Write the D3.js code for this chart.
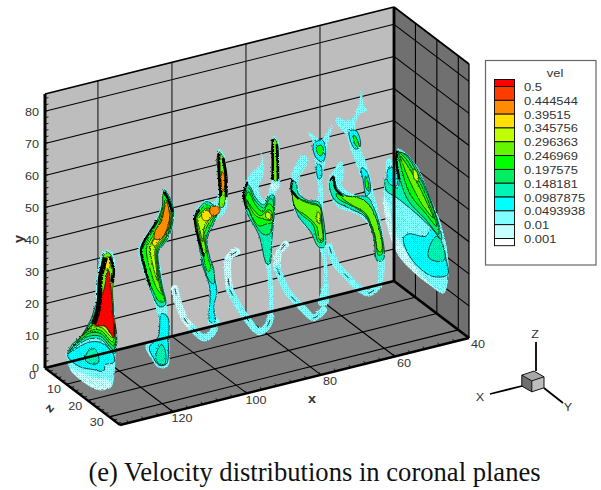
<!DOCTYPE html>
<html>
<head>
<meta charset="UTF-8">
<title>vel coronal planes</title>
<script src="https://d3js.org/d3.v7.min.js"></script>
<style>
  html, body { margin: 0; padding: 0; background: #fff; }
  svg { display: block; }
  text { font-family: "Liberation Sans", Arial, sans-serif; fill: #333; }
</style>
</head>
<body>
<svg width="601" height="490"></svg>
<script>
// axis ticks
const xTicks = [40, 60, 80, 100, 120];
const yTicks = [0, 10, 20, 30, 40, 50, 60, 70, 80];
const zTicks = [0, 10, 20, 30];
const xMinor = d3.range(40, 134, 4);
const yMinor = d3.range(0, 85, 2);
const zMinor = d3.range(0, 35, 2);

// contour legend
const velLevels = [0.001, 0.01, 0.0493938, 0.0987875, 0.148181, 0.197575, 0.246969, 0.296363, 0.345756, 0.39515, 0.444544, 0.5];
const velColors = ["#ffffff", "#c8ffff", "#7fffff", "#00ffff", "#00f5b5", "#00ee60", "#00ff00", "#66f500", "#bfff00", "#ffe000", "#ff8c00", "#ff3c00", "#ff0000"];
const legendLabels = ["0.5", "0.444544", "0.39515", "0.345756", "0.296363", "0.246969", "0.197575", "0.148181", "0.0987875", "0.0493938", "0.01", "0.001"];

// x position of each coronal plane
const planeX = [132, 115, 100, 86, 72, 58, 45];

// contour bands per plane: [vel, [[z, y], ...]]
const plane1Bands = [
  [0.01, [[23.8,48.3],[27.1,49.4],[28.5,46.4],[27.6,40.9],[28,33.6],[28.5,26.7],[28.5,18.3],[27.6,9.7],[26.6,7.4],[21.5,3.6],[13.5,2.1],[7.5,2.8],[5.6,6.9],[7.5,10],[12.1,14.5],[15.4,20.2],[18.2,25.6],[19.1,33.6],[20.1,40.2],[21.9,46.2]]],
  [0.001, [[7.5,2.8],[13.5,2.1],[21.5,3.6],[26.6,7.4],[25.2,8.6],[19.1,6.2],[12.1,4.5]]],
  [0.05, [[6.1,6.8],[9.8,10.5],[15.9,15.7],[21.5,18.5],[27.6,17.8],[27.6,15.3],[23.8,12.8],[22.9,10.3],[18.2,8.4],[12.1,6.1],[8.4,5.8]]],
  [0.1, [[14.5,9.4],[15.9,13.2],[19.1,15.2],[20.5,11.8],[17.7,9.8]]],
  [0.1, [[6.1,7.1],[10.3,11.7],[15.9,16.7],[21.5,19.5],[28,18.4],[28,28],[20.5,30.5],[16.8,23.1],[12.1,15.4],[8.4,11.4]]],
  [0.15, [[7,8.5],[10.7,12.8],[15.9,17.6],[21.5,20.4],[27.6,19.4],[27.6,28.4],[21,30.1],[17.3,23],[12.6,16]]],
  [0.2, [[8.9,11],[12.1,14.5],[16.3,18.8],[21.5,21.3],[27.6,20.6],[27.6,29],[21.5,29.7],[18.2,23.1],[14,17.6]]],
  [0.25, [[12.1,15.4],[16.8,19.9],[21.5,22.3],[27.1,21.6],[27.1,29.1],[21.9,29.4],[18.7,23.4],[15.4,19.2]]],
  [0.3, [[15.4,19.2],[17.7,21.3],[21.9,23.4],[27.1,22.9],[27.1,29.1],[22.4,29],[19.1,23.6]]],
  [0.35, [[18.2,22.2],[22.4,24.6],[27.1,23.8],[27.1,29.1],[22.9,28.6],[19.6,23.8]]],
  [0.4, [[19.1,23.3],[22.9,25.5],[27.1,24.8],[27.6,30.3],[23.3,28.2]]],
  [0.25, [[22.9,46.3],[25.2,48.4],[27.1,47.5],[27.6,43.4],[27.1,36.9],[27.1,30.1],[20.5,29.9],[21.5,35.7],[21.9,42.1]]],
  [0.51, [[25.2,42.8],[26.6,36.7],[27.6,26.2],[27.6,23.1],[23.8,24.7],[19.1,22.7],[21,29.2],[23.3,36.6]]],
  [0.35, [[23.8,46.1],[25.7,47.1],[25.7,43.9],[24.3,42.4]]]
];
const plane2Bands = [
  [0.01, [[21.9,61.8],[24.3,60.7],[26.6,57.9],[26.2,53],[24.8,48.8],[21.9,44.3],[19.6,41],[20.5,35.2],[21.9,29.7],[22.9,26.1],[23.8,22.2],[24.3,15.3],[23.4,7],[19.1,4.6],[15.9,5.8],[13.1,8.4],[19.1,13.6],[19.1,19.9],[14.9,27.1],[12.6,30.3],[9.8,37],[12.1,41.3],[14.9,45.5],[18.2,50.5],[20.5,56.1],[21.5,59.7]]],
  [0.05, [[14.9,8.7],[19.1,14.3],[20.5,22.1],[23.4,22.6],[23.8,15],[22.9,7.7],[19.6,5.5],[16.8,6.5]]],
  [0.1, [[18.2,8.5],[20.5,12.5],[22.4,11.2],[21.9,6.9],[19.1,5.8]]],
  [0.1, [[21.9,61.4],[24.3,60.4],[26.2,57.6],[25.7,52.7],[24.3,48.6],[21.5,44.1],[19.1,40.7],[19.6,35.4],[21,30.8],[22.4,25.9],[19.6,23.8],[15.9,26.6],[13.5,30.1],[10.7,37.1],[12.6,41.2],[15.4,45.4],[18.7,50.5],[21,56]]],
  [0.2, [[21.5,60],[23.8,59.6],[25.7,57.1],[25.2,52.5],[23.8,48.7],[21,44.2],[18.7,40.8],[19.1,35.1],[20.5,30.5],[21.9,26.6],[19.6,25.4],[16.8,27.1],[14,30.7],[11.7,37.6],[13.5,41],[15.9,45],[19.1,50.4],[21,55.4]]],
  [0.25, [[22.4,58.6],[25.2,56.5],[24.8,52.3],[23.4,48.4],[20.5,44.2],[18.2,40.9],[18.7,34.9],[19.6,30.7],[21,28.3],[18.7,28.7],[15.9,32.2],[13.5,38.5],[14.9,41.7],[17.3,45.4],[19.6,50],[21.5,55]]],
  [0.3, [[22.9,56.6],[24.8,55.4],[24.3,52],[22.9,48.5],[20.1,44.3],[17.7,41],[18.2,34.7],[19.1,31.4],[17.3,33.6],[15.4,38.9],[15.9,41.9],[18.2,45.6],[20.1,49.9],[21.9,54.6]]],
  [0.35, [[23.4,55.9],[24.3,52],[22.4,48.3],[19.6,44.4],[17.3,41.4],[16.3,42.1],[18.7,45.8],[20.5,50.2],[21.9,54]]],
  [0.4, [[22.9,58.2],[24.3,53.6],[20.5,45.5],[17.3,43.8],[17.7,46.6],[20.5,50.8],[21.9,55.5]]]
];
const plane3Bands = [
  [0.01, [[21.5,69.6],[23.8,69.2],[25.2,64.3],[25.7,59.3],[25.2,53.4],[23.4,50],[19.1,45.4],[15.4,37.6],[16.8,33],[19.1,30.1],[21,24.8],[19.6,20.1],[20.1,14.1],[16.8,12.5],[16.8,23.7],[13.1,31.2],[10.7,38.4],[9.8,43.5],[11.7,46.3],[15.4,50.7],[18.7,51.7],[21,55.1],[20.5,63.5]]],
  [0.05, [[17.3,13.6],[17.3,23.9],[13.5,31.1],[16.3,32.5],[18.7,29.3],[20.5,24.6],[19.1,19.5],[19.6,14.8]]],
  [0.1, [[10.3,43.5],[12.1,46.3],[15.4,50.1],[18.7,50.8],[20.5,49.5],[19.6,46.3],[15.9,38.5],[17.3,33.6],[19.1,30.8],[19.1,26.4],[17.3,26.1],[13.5,31.4],[11.2,38]]],
  [0.2, [[10.7,43.4],[12.6,45.9],[15.4,49.1],[18.7,49.8],[20.1,48.7],[18.7,45.8],[15.4,38.9],[16.3,33.4],[17.7,30.4],[16.3,28.7],[14,32.9],[11.7,38.2]]],
  [0.25, [[11.2,43],[13.1,45.5],[15.9,48.4],[18.7,48.9],[19.1,47.6],[16.8,44.2],[14.5,39.3],[15.4,34.5],[14.5,33.4],[12.6,37.8]]],
  [0.3, [[11.7,42.6],[13.5,45.1],[15.9,47.8],[18.7,48.3],[16.8,45.2],[14.5,41.5],[14,36.9],[12.6,39.9]]],
  [0.35, [[13.5,45.4],[16.3,47.7],[18.2,47.1],[15.9,44.4],[14,43.8]]],
  [0.4, [[17.7,49.7],[21.9,51.5],[21.5,49.7],[18.7,47.3],[17.3,47.6]]],
  [0.25, [[21.5,68.7],[23.4,68.1],[24.8,64.1],[24.8,57.9],[23.4,52.5],[21.9,51.8],[21.9,56.5],[21.5,62.5],[20.5,65.1]]],
  [0.4, [[22.9,63.2],[23.8,63],[23.8,58],[22.9,56.9]]]
];
const plane4Bands = [
  [0.01, [[22.9,70.6],[25.2,69.6],[25.7,62.1],[25.7,55.8],[23.8,53.3],[23.4,45.3],[22.4,37.1],[21.5,29.4],[22.4,25.5],[22.9,19.5],[22.4,14.3],[21,12.4],[20.5,20.6],[19.1,29.2],[15.9,36],[9.8,40.1],[8.9,44.9],[9.8,49.5],[13.1,54.2],[16.8,58.3],[16.8,62.3],[18.2,59.9],[18.2,55.8],[15.9,50.9],[18.2,48],[21,52.6],[21.9,55.5],[21.9,64.9],[22.4,69.8]]],
  [0.001, [[21.9,55.5],[25.2,56.5],[23.8,53.7],[21.5,53.1]]],
  [0.1, [[9.3,45.2],[10.7,49],[12.1,48.8],[14.5,46.8],[18.2,46.5],[21,50.7],[22.9,51.9],[22.9,45.1],[21.9,36.8],[21,29.5],[19.6,28.8],[15.9,36],[10.3,40.3]]],
  [0.15, [[9.8,45.4],[11.2,48.3],[14,45.9],[18.2,45.6],[21,49.8],[22.4,50.2],[22.4,44.9],[21,38.9],[17.7,37.2],[12.1,40.3]]],
  [0.2, [[9.8,44.8],[11.2,47],[14,44.7],[17.7,44.1],[20.5,48],[22.4,48],[22.4,43.3],[19.6,41.3],[15.9,38.8],[12.1,40.7]]],
  [0.25, [[10.3,44.1],[13.1,42.7],[16.8,42.4],[20.1,45.9],[21.9,46.2],[21.9,43.7],[17.7,41.9],[14,41.3]]],
  [0.3, [[19.6,45],[21.5,45.3],[21,43.2],[19.1,43.2]]],
  [0.25, [[23.4,69.6],[24.8,67.8],[24.8,61.6],[24.8,57.5],[22.9,56.6],[22.4,62],[21.9,66.4]]]
];
const plane5Bands = [
  [0.01, [[26.2,71.3],[24.3,65.7],[22.9,59.1],[21.5,52.2],[21.9,47.4],[21.5,41],[22.9,33.3],[23.8,25.3],[24.3,18.4],[23.8,14.1],[19.6,12],[21.9,20.3],[21.5,27.3],[17.3,32.6],[12.6,33.4],[7.9,36.1],[7,44],[7.9,48.5],[12.6,55.2],[14.9,54.8],[10.3,45.6],[13.5,41.7],[19.1,44.8],[18.2,52.7],[17.3,60.7],[14.9,63.5],[17.3,63.8],[20.5,63.9],[23.8,68]]],
  [0.05, [[17.3,61],[21.5,64.3],[22.9,61.3],[21.5,57.5],[18.2,57.4]]],
  [0.2, [[18.7,60.7],[21,62.5],[21.9,60.8],[20.5,58.9],[19.1,59.1]]],
  [0.05, [[18.7,55.1],[20.5,56.1],[21,52.6],[19.6,51.2]]],
  [0.1, [[7,44],[8.9,44.9],[10.3,41.9],[14.9,42.1],[19.6,44.1],[21.5,41],[22.4,31.5],[19.6,30.1],[15.9,32.9],[9.8,35.1],[7.5,39.6]]],
  [0.2, [[7.9,41.4],[9.8,40.7],[14,41.3],[19.6,43.1],[21,40.1],[21.5,32.6],[19.6,31.6],[16.8,35.8],[11.2,36.1],[7.9,37.6]]],
  [0.25, [[7.5,41.1],[11.2,40.5],[15.9,41.6],[20.1,42.8],[21,37.9],[21.5,33.2],[20.1,32.5],[18.7,36.1],[14,36.9],[8.9,36.8]]],
  [0.3, [[19.1,40.7],[20.1,40.9],[20.1,37.5],[19.1,37.6]]]
];
const plane6Bands = [
  [0.01, [[15.4,72.5],[16.8,68.5],[18.2,68],[14.5,64.6],[12.6,60.2],[14.5,55.5],[18.2,50.5],[21,44.2],[24.8,35.7],[26.2,27.1],[25.7,19.1],[22.9,14.6],[23.4,21],[21.9,27.5],[18.2,32.8],[11.7,32.6],[4.7,30.7],[0.9,32.9],[0,36.8],[2.3,41],[6.1,46],[7.5,43],[6.5,38.5],[11.7,38.5],[17.7,41.6],[14.5,46.5],[10.7,51.5],[8.4,55],[3.7,56.7],[4.2,58.8],[8.4,59.7],[11.7,62.5],[13.1,65.1],[14.5,68.9]]],
  [0.05, [[9.8,57.2],[13.1,58.9],[14.9,55.1],[12.6,53],[10.3,54.4]]],
  [0.2, [[11.7,56.9],[13.1,56.7],[14.5,54.3],[12.6,54.3]]],
  [0.05, [[15.4,48.5],[17.7,48.8],[19.6,43.5],[17.7,41],[16.3,44.9]]],
  [0.2, [[17.3,47],[18.7,45.5],[18.7,43],[17.3,43.8]]],
  [0.1, [[0.5,36.4],[2.3,39.2],[4.2,36.4],[8.9,36.5],[18.2,40.9],[21.5,38.8],[25.2,31.9],[25.7,25.3],[22.9,23.3],[21,30.1],[17.3,34.2],[9.3,33],[2.8,32.2]]],
  [0.2, [[3.7,34.6],[8.4,35.7],[16.3,39],[20.5,37.7],[24.8,31.1],[25.2,26.9],[23.4,25.4],[21.5,30.4],[17.3,34.8],[9.8,34.2],[4.7,33.5]]],
  [0.25, [[6.1,34.8],[15.4,38.9],[20.1,38.4],[24.8,31.1],[24.8,27.3],[23.4,26.6],[21.5,31.3],[17.3,35.4],[10.7,34.7]]]
];
const plane7Bands = [
  [0.001, [[9.8,47.9],[13.5,48.5],[19.6,46.6],[25.2,40.3],[29.9,34.9],[33.2,26.9],[33.2,18.5],[31.3,13.8],[24.3,13.1],[18.2,13.2],[10.3,14.8],[5.6,20.2],[3.3,27.5],[5.1,39.6],[5.1,42.4],[8.9,43.7]]],
  [0.01, [[9.8,47.9],[13.5,48.5],[19.6,46.6],[25.2,40.3],[29.9,34.9],[33.2,26.9],[33.2,18.5],[31.3,13.8],[26.2,13.4],[19.6,14.8],[13.5,18],[8.9,21.3],[5.6,28],[3.7,30.2],[4.2,38.2],[5.1,42.4],[8.9,43.7]]],
  [0.05, [[13.5,18.9],[12.6,21.6],[14.9,24],[22.9,27.3],[25.7,30.9],[29.9,29.3],[32.7,24.5],[33.2,20.6],[26.2,16.5],[18.2,16.3]]],
  [0.1, [[24.3,21.5],[25.2,26],[28,29.9],[30.4,29.5],[31.8,24.6],[28,22.1]]],
  [0.1, [[8.9,46.2],[13.5,48.2],[19.6,45.9],[25.2,40],[29,34.4],[30.4,30.1],[26.2,31.2],[18.2,32.2],[8.9,32.5],[4.7,32.2],[4.2,35.7],[9.8,35.7],[10.3,41.3]]],
  [0.05, [[5.6,39.6],[8.9,41.2],[9.3,36.1],[5.6,35.2]]],
  [0.15, [[10.3,46.9],[13.5,47.9],[19.1,45.1],[24.8,39.8],[28.5,34.2],[29,31],[22.9,32.6],[14.9,34.3],[11.2,38.6],[9.8,42.6]]],
  [0.2, [[10.7,46.8],[13.1,47],[18.7,43.9],[24.3,38.9],[28,33],[22.9,34.5],[16.3,36.5],[12.6,40.9]]],
  [0.25, [[11.2,46.4],[14,45.3],[18.7,42.4],[23.4,38.2],[26.6,34.8],[21.9,36.2],[17.3,39.2],[13.5,42.9]]],
  [0.3, [[17.3,45.4],[18.7,45.5],[19.6,42.8],[17.7,42.5]]]
];
const planeBands = [plane1Bands, plane2Bands, plane3Bands, plane4Bands, plane5Bands, plane6Bands, plane7Bands];

// thin rings at the lower end of the planes: [plane index, vel, [[z, y], ...]]
const planeRings = [
  [2, 0.001, [[0.9,15.7],[2.8,11.7],[5.6,8.4],[9.3,7.5]]],
  [2, 0.01, [[9.3,7.5],[14.5,7.2],[18.7,11.2],[20.1,15]]],
  [3, 0.001, [[5.6,25.5],[1.9,21.8],[1.4,17.2],[2.3,12.1]]],
  [3, 0.01, [[2.3,12.1],[6.5,8.9],[10.7,6.9],[15.9,5.8],[19.6,9.2],[21.5,13.2]]],
  [4, 0.001, [[4.2,23],[0.9,18.5],[0.5,13.6]]],
  [4, 0.01, [[0.5,13.6],[5.1,8.8],[12.6,7.2],[17.3,6.8],[21.9,11.6]]],
  [5, 0.01, [[0.5,16.4],[3.3,12.8],[9.3,11.2],[14.5,10.4],[18.7,11.2],[23.4,15.7]]]
];

// stretches of tightly packed contour lines that read as solid black: [plane index, width, [[z, y], ...]]
const denseLines = [
  [0, 5, [[23.8,46.1],[21.5,38.8],[21,32.3],[20.1,27.2],[18.2,22.5]]],
  [0, 2.6, [[25.7,47.4],[27.6,44.9],[27.1,40]]],
  [1, 2.6, [[21.9,60.8],[23.8,59.3],[25.7,56.5]]],
  [1, 2.2, [[18.7,50.2],[14.9,44.5],[11.2,37.7],[13.1,32.1],[15.4,28]]],
  [2, 3, [[21.5,68.1],[21.5,62.5],[22.4,55.1]]],
  [2, 3, [[23.4,67.8],[24.8,62.5],[24.8,56.3]]],
  [2, 2.2, [[12.6,46.2],[10.3,42.5],[11.7,37.3],[14.5,32.5]]],
  [3, 2.6, [[22.4,69.2],[22.4,62],[22.4,56.4]]],
  [3, 2.6, [[24.3,68.5],[24.8,61.6],[24.8,57.5]]],
  [3, 2.2, [[10.7,49.9],[8.9,44.9],[10.3,41]]],
  [4, 2.2, [[7.5,44.9],[7,41.5],[10.3,40.3]]],
  [5, 2.2, [[0.9,37.2],[2.3,39.2],[3.3,35.9],[6.5,35.4]]],
  [6, 2.4, [[9.8,47.3],[9.3,43.9],[10.7,39]]]
];

const svg = d3.select("svg");

// oblique view of the box, one scale per screen direction
const xToH = d3.scaleLinear().domain([40, 134.3]).range([394, 45]);
const xToV = d3.scaleLinear().domain([40, 134.3]).range([281, 368]);
const yToV = d3.scaleLinear().domain([0, 85.4]).range([0, -274]);
const zToH = d3.scaleLinear().domain([0, 35]).range([0, 75]);
const zToV = d3.scaleLinear().domain([0, 35]).range([0, 57]);
const xEnds = xToH.domain(), yEnds = yToV.domain(), zEnds = zToH.domain();

const px = (x, z) => xToH(x) + zToH(z);
const py = (x, y, z) => xToV(x) + yToV(y) + zToV(z);
const pt = (x, y, z) => [px(x, z), py(x, y, z)];

const velColor = d3.scaleThreshold().domain(velLevels).range(velColors);

function face(points, fill) {
  svg.append("polygon").attr("points", points.map(p => p.join(",")).join(" ")).attr("fill", fill);
}

function seg(a, b, width, color) {
  svg.append("line")
    .attr("x1", a[0]).attr("y1", a[1])
    .attr("x2", b[0]).attr("y2", b[1])
    .attr("stroke", color || "#000")
    .attr("stroke-width", width);
}

// the reference text is slightly wider than its height suggests
function label(x, y, str, size, anchor, angle, weight) {
  const rot = angle ? ` rotate(${angle})` : "";
  svg.append("text")
    .attr("transform", `translate(${x},${y})${rot} scale(1.2,1)`)
    .attr("font-size", size)
    .attr("font-weight", weight || "normal")
    .attr("text-anchor", anchor || "middle")
    .attr("dy", "0.35em")
    .text(str);
}

// walls and floor
face([pt(xEnds[1], 0, 0), pt(xEnds[1], yEnds[1], 0), pt(40, yEnds[1], 0), pt(40, 0, 0)], "#bdbdbd");
face([pt(40, 0, 0), pt(40, yEnds[1], 0), pt(40, yEnds[1], zEnds[1]), pt(40, 0, zEnds[1])], "#707070");
face([pt(xEnds[1], 0, 0), pt(40, 0, 0), pt(40, 0, zEnds[1]), pt(xEnds[1], 0, zEnds[1])], "#7f7f7f");

// grid lines
yTicks.filter(d => d > 0).forEach(d => {
  seg(pt(xEnds[1], d, 0), pt(40, d, 0), 1.1);
  seg(pt(40, d, 0), pt(40, d, zEnds[1]), 1.1);
});
xTicks.filter(d => d > 40).forEach(d => {
  seg(pt(d, 0, 0), pt(d, yEnds[1], 0), 1.2, "#2a2a2a");
  seg(pt(d, 0, 0), pt(d, 0, zEnds[1]), 1.1);
});
zTicks.filter(d => d > 0).forEach(d => {
  seg(pt(xEnds[1], 0, d), pt(40, 0, d), 1.1);
  seg(pt(40, 0, d), pt(40, yEnds[1], d), 1.1);
});

// minor ticks
yMinor.forEach(d => {
  const p = pt(xEnds[1], d, 0);
  seg(p, [p[0] + 3.5, p[1] - 0.9], 0.8);
});
xMinor.forEach(d => {
  const p = pt(d, 0, zEnds[1]);
  seg(p, [p[0] - 1.6, p[1] - 2.6], 0.8);
});
zMinor.forEach(d => {
  const p = pt(xEnds[1], 0, d);
  seg(p, [p[0] + 3.5, p[1] - 0.9], 0.8);
});

// coronal planes, farthest first
const defs = svg.append("defs");
const filter = defs.append("filter")
  .attr("id", "rough").attr("x", "-10%").attr("y", "-10%").attr("width", "120%").attr("height", "120%");
filter.append("feTurbulence").attr("type", "turbulence").attr("baseFrequency", 0.45).attr("numOctaves", 1).attr("seed", 4);
filter.append("feDisplacementMap").attr("in", "SourceGraphic").attr("scale", 2.8);

// the grid nodes of the mesh show through the low velocity bands
const mesh = defs.append("pattern")
  .attr("id", "mesh").attr("width", 2).attr("height", 2).attr("patternUnits", "userSpaceOnUse");
mesh.append("rect").attr("width", 1).attr("height", 1).attr("fill", "#007a7a").attr("opacity", 0.28);

const planes = svg.append("g").attr("filter", "url(#rough)");

d3.range(planeX.length - 1, -1, -1).forEach(i => {
  const x = planeX[i];
  const g = planes.append("g");
  const closed = d3.line().x(d => px(x, d[0])).y(d => py(x, d[1], d[0]))
    .curve(d3.curveCatmullRomClosed.alpha(0.5));
  const open = d3.line().x(d => px(x, d[0])).y(d => py(x, d[1], d[0]))
    .curve(d3.curveCatmullRom.alpha(0.5));
  const rings = planeRings.filter(r => r[0] === i);

  g.selectAll(".ring").data(rings).enter().append("path")
    .attr("d", d => open(d[2]))
    .attr("fill", "none")
    .attr("stroke", d => velColor(d[1]))
    .attr("stroke-width", 7)
    .attr("stroke-linecap", "round");
  g.selectAll(".ringmesh").data(rings).enter().append("path")
    .attr("d", d => open(d[2]))
    .attr("fill", "none")
    .attr("stroke", "url(#mesh)")
    .attr("stroke-width", 7);
  g.selectAll(".ringmark").data(rings).enter().append("path")
    .attr("d", d => open(d[2]))
    .attr("fill", "none")
    .attr("stroke", "#000")
    .attr("stroke-width", 0.8)
    .attr("stroke-dasharray", "7 24");

  planeBands[i].forEach(d => {
    g.append("path")
      .attr("d", closed(d[1]))
      .attr("fill", velColor(d[0]))
      .attr("stroke", d[0] > 0.02 ? "#000" : "none")
      .attr("stroke-width", 0.7);
    if (d[0] < 0.12) {
      g.append("path").attr("d", closed(d[1])).attr("fill", "url(#mesh)");
    }
  });

  g.selectAll(".dense").data(denseLines.filter(r => r[0] === i)).enter().append("path")
    .attr("d", d => open(d[2]))
    .attr("fill", "none")
    .attr("stroke", "#000")
    .attr("stroke-width", d => d[1]);
});

// frame of the box
seg(pt(xEnds[1], yEnds[1], 0), pt(40, yEnds[1], 0), 1.8);
seg(pt(40, yEnds[1], 0), pt(40, yEnds[1], zEnds[1]), 1.8);
seg(pt(40, 0, zEnds[1]), pt(40, yEnds[1], zEnds[1]), 1.3);
seg(pt(40, 0, 0), pt(40, yEnds[1], 0), 2.8);
seg(pt(xEnds[1], 0, 0), pt(xEnds[1], yEnds[1], 0), 3);
seg(pt(xEnds[1], 0, 0), pt(40, 0, 0), 2.8);
seg(pt(40, 0, 0), pt(40, 0, zEnds[1]), 2.8);
seg(pt(xEnds[1], 0, zEnds[1]), pt(40, 0, zEnds[1]), 2.4);
seg(pt(xEnds[1], 0, 0), pt(xEnds[1], 0, zEnds[1]), 2.2);

// tick labels
yTicks.forEach(d => {
  const p = pt(xEnds[1], d, 0);
  label(p[0] - 6, p[1] + 0.8, d, 10.5, "end");
});
zTicks.forEach(d => {
  const p = pt(xEnds[1], 0, d);
  label(p[0] - 12.5, p[1] + (d === 0 ? 7 : 5.5), d, 10.5);
});
xTicks.forEach(d => {
  const p = pt(d, 0, zEnds[1]);
  label(p[0] + 9, p[1] + 6.5, d, 10.5);
});
label(19, 239, "y", 12, "middle", -90, "bold");
label(49, 408, "z", 12, "middle", -50, "bold");
label(312, 399, "x", 12, "middle", 0, "bold");

// legend
svg.append("rect")
  .attr("x", 485.5).attr("y", 60.5).attr("width", 110.5).attr("height", 204.5)
  .attr("fill", "#fff").attr("stroke", "#666").attr("stroke-width", 1.2);
const legendY = d3.scaleLinear().domain([0, legendLabels.length - 1]).range([86.5, 238.5]);
const legendEdges = [79.5].concat(legendLabels.map((d, i) => legendY(i)), [245.7]);
d3.range(velColors.length).forEach(i => {
  svg.append("rect")
    .attr("x", 494.5).attr("y", legendEdges[i])
    .attr("width", 20).attr("height", legendEdges[i + 1] - legendEdges[i])
    .attr("fill", velColors[velColors.length - 1 - i])
    .attr("stroke", "#000").attr("stroke-width", 0.9);
});
legendLabels.forEach((d, i) => label(524, legendY(i) + 0.7, d, 10.8, "start"));
label(555, 73, "vel", 10.8);

// orientation cube, same directions as the box
const triX = d3.scaleLinear().domain([0, 1]).range([0, 12.2]);
const triZ = d3.scaleLinear().domain([0, 1]).range([0, 10]);
const triH = 11;
const triO = [544, 376.8];
const tri = (a, b, c) => [triO[0] - triX(a) + triZ(c), triO[1] + triX(a) * 0.33 - triH * b + triZ(c) * 0.57];
face([tri(0, 0, 0), tri(1, 0, 0), tri(1, -1, 0), tri(0, -1, 0)], "#bdbdbd");
face([tri(1, 0, 0), tri(1, 0, -1), tri(1, -1, -1), tri(1, -1, 0)], "#6e6e6e");
face([tri(0, 0, 0), tri(0, 0, -1), tri(1, 0, -1), tri(1, 0, 0)], "#a8a8a8");
[[tri(0, 0, 0), tri(1, 0, 0)], [tri(1, 0, 0), tri(1, 0, -1)], [tri(1, 0, -1), tri(0, 0, -1)], [tri(0, 0, -1), tri(0, 0, 0)],
 [tri(1, 0, 0), tri(1, -1, 0)], [tri(0, 0, 0), tri(0, -1, 0)], [tri(1, 0, -1), tri(1, -1, -1)],
 [tri(1, -1, 0), tri(0, -1, 0)], [tri(1, -1, 0), tri(1, -1, -1)]]
  .forEach(s => seg(s[0], s[1], 1, "#111"));
seg([536, 371], [536, 342], 1.8);
seg([522, 386], [490, 394], 1.8);
seg([544, 388], [563, 403], 1.8);
label(535, 334, "Z", 10.5);
label(480, 397, "X", 10.5);
label(568, 407, "Y", 10.5);

// caption
svg.append("text")
  .attr("x", 314.5).attr("y", 481)
  .attr("text-anchor", "middle")
  .attr("font-size", 26.6)
  .style("font-family", "'Liberation Serif', 'Times New Roman', serif")
  .style("fill", "#111")
  .text("(e) Velocity distributions in coronal planes");
</script>
</body>
</html>
